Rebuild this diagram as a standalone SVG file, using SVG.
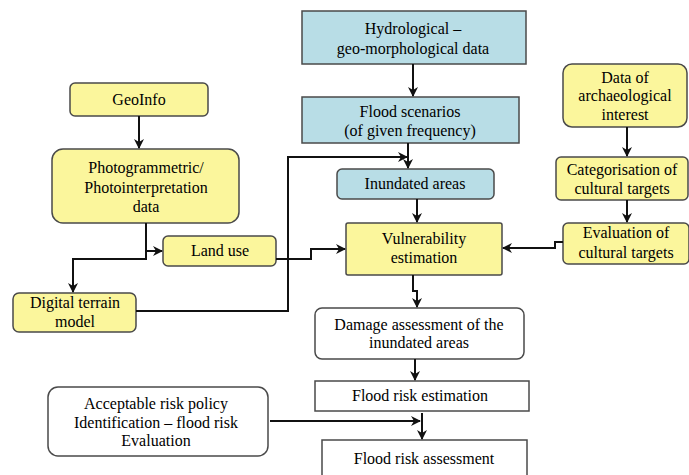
<svg xmlns="http://www.w3.org/2000/svg" width="689" height="475" viewBox="0 0 689 475">
<defs>
<marker id="a" viewBox="0 0 10 10" refX="9" refY="5" markerWidth="5" markerHeight="5" orient="auto" markerUnits="strokeWidth">
<path d="M0,0 L10,5 L0,10 L3,5 z" fill="#111"/>
</marker>
</defs>
<rect width="689" height="475" fill="#fff"/>
<g stroke="#4a4a4a" stroke-width="1.5">
<rect fill="#b8dde6" x="302" y="11" width="224" height="53"/>
<rect fill="#b8dde6" x="302" y="97" width="217" height="46"/>
<rect fill="#b8dde6" x="337" y="169" width="157" height="30" rx="5"/>
<rect fill="#fbf69c" x="346" y="223" width="156" height="52" rx="2"/>
<rect fill="#fbf69c" x="563" y="64" width="124" height="63" rx="9"/>
<rect fill="#fbf69c" x="556" y="157" width="132" height="43" rx="5"/>
<rect fill="#fbf69c" x="563" y="223" width="126" height="41" rx="5"/>
<rect fill="#fbf69c" x="70" y="83" width="138" height="33" rx="5"/>
<rect fill="#fbf69c" x="52" y="149" width="187" height="74" rx="11"/>
<rect fill="#fbf69c" x="163" y="236" width="113" height="30" rx="5"/>
<rect fill="#fbf69c" x="13" y="293" width="123" height="39" rx="6"/>
<rect fill="#fff" x="315" y="308" width="209" height="51" rx="7"/>
<rect fill="#fff" x="315" y="381" width="214" height="30"/>
<rect fill="#fff" x="48" y="387" width="220" height="69" rx="10"/>
<rect fill="#fff" x="322" y="440" width="205" height="45"/>
</g>
<g id="hydro"><text font-family="Liberation Serif" font-size="16" text-anchor="middle" x="413" y="34">Hydrological &#8211;</text><text font-family="Liberation Serif" font-size="16" text-anchor="middle" x="413" y="54">geo-morphological data</text></g>
<g id="scenarios"><text font-family="Liberation Serif" font-size="16" text-anchor="middle" x="410" y="117">Flood scenarios</text><text font-family="Liberation Serif" font-size="16" text-anchor="middle" x="410" y="136">(of given frequency)</text></g>
<g id="inundated"><text font-family="Liberation Serif" font-size="16" text-anchor="middle" x="415" y="189">Inundated areas</text></g>
<g id="vulnerability"><text font-family="Liberation Serif" font-size="16" text-anchor="middle" x="424" y="244">Vulnerability</text><text font-family="Liberation Serif" font-size="16" text-anchor="middle" x="424" y="263">estimation</text></g>
<g id="archaeo"><text font-family="Liberation Serif" font-size="16" text-anchor="middle" x="625" y="83">Data of</text><text font-family="Liberation Serif" font-size="16" text-anchor="middle" x="625" y="101">archaeological</text><text font-family="Liberation Serif" font-size="16" text-anchor="middle" x="625" y="120">interest</text></g>
<g id="categorisation"><text font-family="Liberation Serif" font-size="16" text-anchor="middle" x="622" y="175">Categorisation of</text><text font-family="Liberation Serif" font-size="16" text-anchor="middle" x="622" y="194">cultural targets</text></g>
<g id="evaluation"><text font-family="Liberation Serif" font-size="16" text-anchor="middle" x="626" y="238">Evaluation of</text><text font-family="Liberation Serif" font-size="16" text-anchor="middle" x="626" y="258">cultural targets</text></g>
<g id="geoinfo"><text font-family="Liberation Serif" font-size="16" text-anchor="middle" x="139" y="105">GeoInfo</text></g>
<g id="photo"><text font-family="Liberation Serif" font-size="16" text-anchor="middle" x="146" y="173">Photogrammetric/</text><text font-family="Liberation Serif" font-size="16" text-anchor="middle" x="146" y="193">Photointerpretation</text><text font-family="Liberation Serif" font-size="16" text-anchor="middle" x="146" y="212">data</text></g>
<g id="landuse"><text font-family="Liberation Serif" font-size="16" text-anchor="middle" x="220" y="256">Land use</text></g>
<g id="dtm"><text font-family="Liberation Serif" font-size="16" text-anchor="middle" x="75" y="308">Digital terrain</text><text font-family="Liberation Serif" font-size="16" text-anchor="middle" x="75" y="327">model</text></g>
<g id="damage"><text font-family="Liberation Serif" font-size="16" text-anchor="middle" x="419" y="330">Damage assessment of the</text><text font-family="Liberation Serif" font-size="16" text-anchor="middle" x="419" y="348">inundated areas</text></g>
<g id="fre"><text font-family="Liberation Serif" font-size="16" text-anchor="middle" x="420" y="401">Flood risk estimation</text></g>
<g id="acceptable"><text font-family="Liberation Serif" font-size="16" text-anchor="middle" x="156" y="409">Acceptable risk policy</text><text font-family="Liberation Serif" font-size="16" text-anchor="middle" x="156" y="428">Identification &#8211; flood risk</text><text font-family="Liberation Serif" font-size="16" text-anchor="middle" x="156" y="446">Evaluation</text></g>
<g id="fra"><text font-family="Liberation Serif" font-size="16" text-anchor="middle" x="424" y="464">Flood risk assessment</text></g>
<g id="connectors" fill="none" stroke="#111" stroke-width="2" marker-end="url(#a)">
<path d="M139,116 V148"/>
<path d="M413,64 V96"/>
<path d="M408,143 V168"/>
<path d="M136,311 H288 V157 H407"/>
<path d="M417,199 V222"/>
<path d="M146,223 V259 H73 V292"/>
<path d="M146,251 H162"/>
<path d="M276,259 H311 V249 H345"/>
<path d="M563,242 H555 V248 H503"/>
<path d="M627,127 V156"/>
<path d="M627,200 V222"/>
<path d="M413,275 V291 H417 V307"/>
<path d="M415,359 V380"/>
<path d="M422,413 V439"/>
<path d="M270,421 H420"/>
</g>
</svg>
